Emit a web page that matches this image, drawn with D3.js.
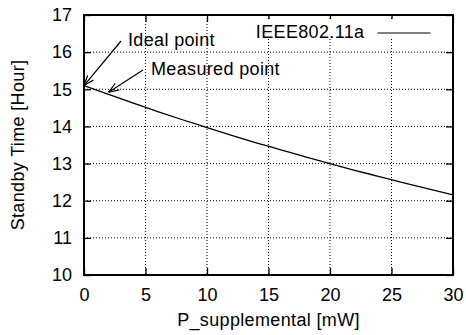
<!DOCTYPE html>
<html>
<head>
<meta charset="utf-8">
<script src="https://cdn.jsdelivr.net/npm/d3@7"></script>
<style>
  body { margin: 0; background: #fff; }
  text { font-family: "Liberation Sans", Arial, Helvetica, sans-serif; fill: #000; }
  .label { letter-spacing: 0.35px; }
</style>
</head>
<body>
<div id="chart"></div>
<script>
(function () {
  // values
  const power = [0, 2, 4, 6, 8, 10, 12, 14, 16, 18, 20, 22, 24, 26, 28, 30];
  const standby = [15.1, 14.86, 14.63, 14.4, 14.18, 13.97, 13.76, 13.56, 13.37, 13.18, 13.0, 12.82, 12.65, 12.48, 12.32, 12.16];
  const xTicks = [0, 5, 10, 15, 20, 25, 30];
  const yTicks = [10, 11, 12, 13, 14, 15, 16, 17];
  const seriesName = "IEEE802.11a";
  const notes = ["Ideal point", "Measured point"];
  const noteTargets = [[0, 15.1], [2, 14.92]];

  const width = 466;
  const height = 335;
  const margin = { top: 15, right: 13, bottom: 60, left: 84 };
  const plotWidth = width - margin.left - margin.right;
  const plotHeight = height - margin.top - margin.bottom;
  const FONT = "18px";

  const svg = d3.select("#chart").append("svg").attr("width", width).attr("height", height);
  const g = svg.append("g").attr("transform", `translate(${margin.left}, ${margin.top})`);

  const x = d3.scaleLinear().domain([0, 30]).range([0, plotWidth]);
  const y = d3.scaleLinear().domain([10, 17]).range([plotHeight, 0]);

  // dotted grid
  g.selectAll(".vgrid")
    .data(xTicks.slice(1, -1))
    .join("line")
    .attr("x1", d => x(d)).attr("x2", d => x(d))
    .attr("y1", 0).attr("y2", plotHeight)
    .attr("stroke", "#000").attr("stroke-width", 1).attr("stroke-dasharray", "1,2");
  g.selectAll(".hgrid")
    .data(yTicks.slice(1, -1))
    .join("line")
    .attr("x1", 0).attr("x2", plotWidth)
    .attr("y1", d => y(d)).attr("y2", d => y(d))
    .attr("stroke", "#000").attr("stroke-width", 1).attr("stroke-dasharray", "1,2");

  const TICK = 7;
  const axisStyle = sel => {
    sel.select(".domain").remove();
    sel.selectAll("text").attr("font-size", FONT);
    sel.selectAll("line").attr("stroke", "#000").attr("stroke-width", 1.3);
  };

  g.append("g").attr("transform", `translate(0, ${plotHeight})`)
    .call(d3.axisBottom(x).tickValues(xTicks).tickSize(-TICK).tickPadding(13))
    .call(axisStyle);
  g.append("g")
    .call(d3.axisTop(x).tickValues(xTicks).tickSize(-TICK).tickFormat(""))
    .call(axisStyle);
  g.append("g")
    .call(d3.axisLeft(y).tickValues(yTicks).tickSize(-TICK).tickPadding(12).tickFormat(d3.format("d")))
    .call(axisStyle);
  g.append("g").attr("transform", `translate(${plotWidth}, 0)`)
    .call(d3.axisRight(y).tickValues(yTicks).tickSize(-TICK).tickFormat(""))
    .call(axisStyle);

  g.append("rect")
    .attr("width", plotWidth).attr("height", plotHeight)
    .attr("fill", "none").attr("stroke", "#000").attr("stroke-width", 2);

  // legend
  const legend = g.append("g").attr("transform", `translate(${x(22.8)}, 18)`);
  legend.append("rect").attr("x", -118).attr("y", -14).attr("width", 180).attr("height", 20).attr("fill", "#fff");
  legend.append("text").attr("class", "label").attr("x", 0).attr("y", 5).attr("text-anchor", "end").attr("font-size", FONT).text(seriesName);
  legend.append("line").attr("x1", 13).attr("x2", 66).attr("y1", 0).attr("y2", 0)
    .attr("stroke", "#555").attr("stroke-width", 1.3);

  // curve
  const line = d3.line().x((d, i) => x(power[i])).y(d => y(d)).curve(d3.curveMonotoneX);
  g.append("path").datum(standby)
    .attr("d", line)
    .attr("fill", "none").attr("stroke", "#000").attr("stroke-width", 1.3);

  // annotations with arrows
  const noteText = [[44, 31], [67, 60]];
  const arrowFrom = [[37, 26], [59, 55]];
  notes.forEach((label, i) => {
    g.append("text").attr("class", "label").attr("x", noteText[i][0]).attr("y", noteText[i][1])
      .attr("font-size", FONT).text(label);
    const [tx, ty] = [x(noteTargets[i][0]), y(noteTargets[i][1])];
    const [fx, fy] = arrowFrom[i];
    g.append("line").attr("x1", fx).attr("y1", fy).attr("x2", tx).attr("y2", ty)
      .attr("stroke", "#000").attr("stroke-width", 1.2);
    const ang = Math.atan2(ty - fy, tx - fx);
    const head = 11, spread = Math.PI / 9;
    [-spread, spread].forEach(s => {
      g.append("line")
        .attr("x1", tx).attr("y1", ty)
        .attr("x2", tx - head * Math.cos(ang + s)).attr("y2", ty - head * Math.sin(ang + s))
        .attr("stroke", "#000").attr("stroke-width", 1.2);
    });
  });

  // axis titles
  svg.append("text").attr("class", "label")
    .attr("x", margin.left + plotWidth / 2).attr("y", 326)
    .attr("text-anchor", "middle").attr("font-size", FONT)
    .text("P_supplemental [mW]");
  svg.append("text").attr("class", "label")
    .attr("transform", `translate(24, ${margin.top + plotHeight / 2}) rotate(-90)`)
    .attr("text-anchor", "middle").attr("font-size", FONT)
    .text("Standby Time [Hour]");
})();
</script>
</body>
</html>
